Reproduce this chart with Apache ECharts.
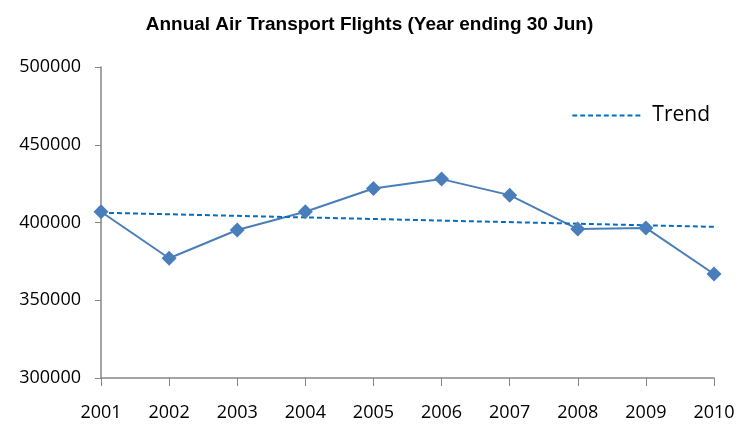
<!DOCTYPE html>
<html>
<head>
    <meta charset="utf-8">
    <title>Annual Air Transport Flights</title>
    <script src="https://cdn.jsdelivr.net/npm/echarts@6/dist/echarts.min.js"></script>
</head>
<body style="margin:0;">
    <div id="main" style="width:739px;height:429px;"></div>
    <script type="text/javascript">
        // data
        var years = ['2001', '2002', '2003', '2004', '2005', '2006', '2007', '2008', '2009', '2010'];
        var flights = [406900, 377000, 395200, 406900, 421900, 427900, 417600, 395800, 396500, 366900];
        var trendEnds = [['2001', 406300], ['2010', 397200]];

        // dashed legend icon: 9 short dashes
        var dashIcon = 'path://M0,0h5v2h-5z M8,0h5v2h-5z M16,0h5v2h-5z M24,0h5v2h-5z M32,0h5v2h-5z M40,0h5v2h-5z M48,0h5v2h-5z M56,0h5v2h-5z M64,0h5v2h-5z';

        var myChart = echarts.init(document.getElementById('main'));

        var option = {
            animation: false,
            title: {
                text: 'Annual Air Transport Flights (Year ending 30 Jun)',
                left: 'center',
                top: 10,
                textStyle: {
                    fontFamily: 'Liberation Sans',
                    fontWeight: 'bold',
                    fontSize: 19,
                    color: '#000'
                }
            },
            legend: {
                data: [{ name: 'Trend', icon: dashIcon }],
                right: 24,
                top: 100,
                itemWidth: 68,
                itemHeight: 2,
                itemGap: 11,
                textStyle: { fontFamily: 'Open Sans', fontSize: 21, color: '#000', padding: [0, 0, 0, 7] }
            },
            grid: {
                left: 101,
                right: 25,
                top: 67,
                bottom: 51
            },
            xAxis: {
                type: 'category',
                data: years,
                boundaryGap: false,
                axisLine: { lineStyle: { color: '#868686', width: 1.5 } },
                axisTick: { length: 8, lineStyle: { color: '#868686' } },
                axisLabel: { margin: 26, fontFamily: 'Open Sans', fontSize: 18, color: '#000' }
            },
            yAxis: {
                type: 'value',
                min: 300000,
                max: 500000,
                interval: 50000,
                axisLine: { show: true, lineStyle: { color: '#868686', width: 1.5 } },
                axisTick: { show: true, length: 6, lineStyle: { color: '#868686' } },
                splitLine: { show: false },
                axisLabel: {
                    margin: 20,
                    fontFamily: 'Open Sans',
                    fontSize: 18,
                    color: '#000',
                    formatter: function (v) { return String(v); }
                }
            },
            series: [
                {
                    name: 'Flights',
                    type: 'line',
                    data: flights,
                    symbol: 'diamond',
                    symbolSize: 15,
                    lineStyle: { color: '#4a7ebb', width: 2 },
                    itemStyle: { color: '#4a7ebb' }
                },
                {
                    name: 'Trend',
                    type: 'line',
                    data: trendEnds,
                    symbol: 'none',
                    lineStyle: { color: '#0070c0', width: 2, type: [5, 3] },
                    itemStyle: { color: '#0070c0' }
                }
            ]
        };

        myChart.setOption(option);
    </script>
</body>
</html>
